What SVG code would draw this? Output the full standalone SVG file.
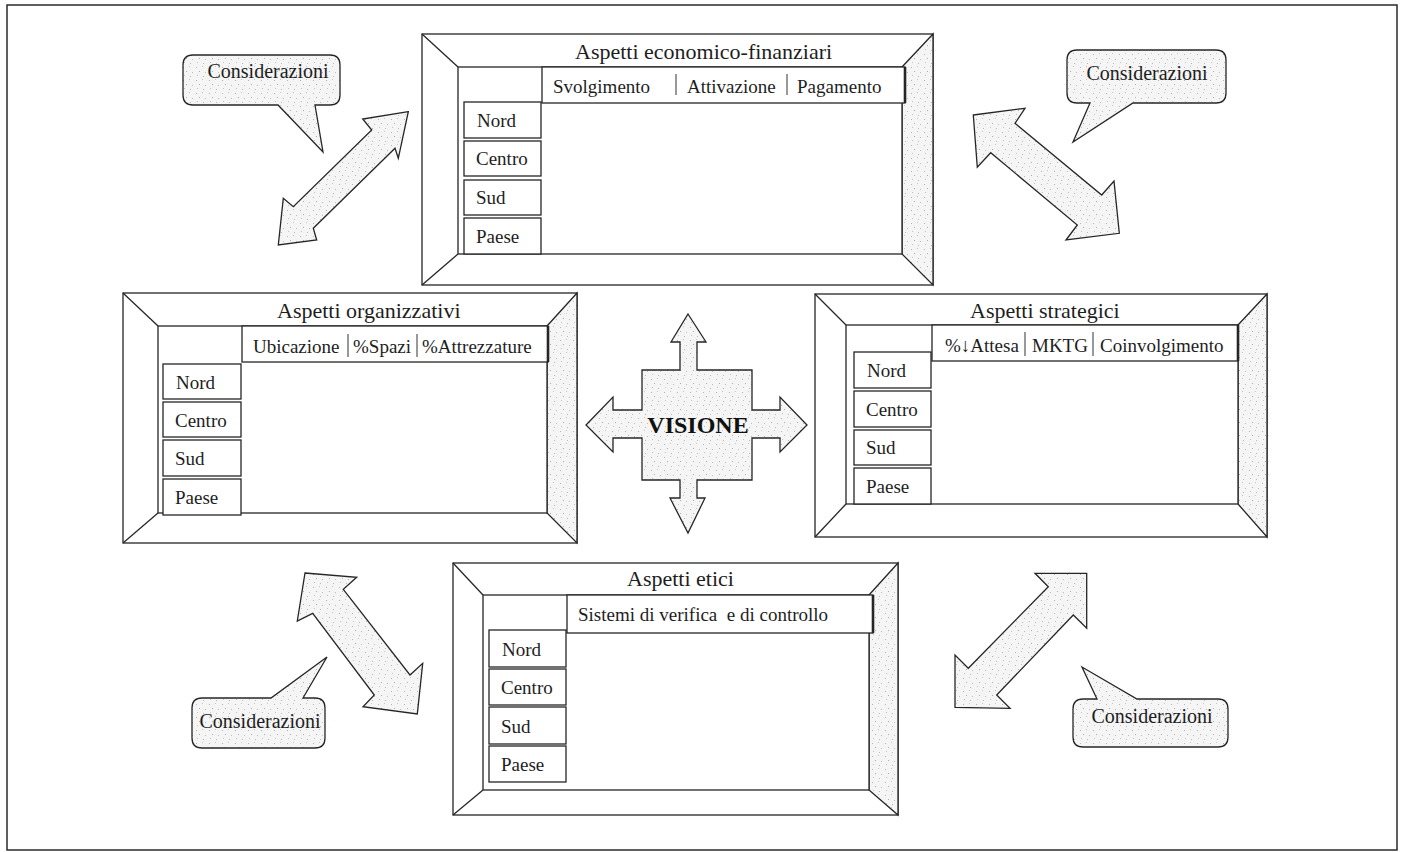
<svg xmlns="http://www.w3.org/2000/svg" width="1403" height="852" viewBox="0 0 1403 852">
  <defs>
    <!-- light dotted screen used for shaded surfaces -->
    <pattern id="stipple" width="13" height="13" patternUnits="userSpaceOnUse">
      <rect width="13" height="13" fill="#f5f5f5"/>
      <rect x="1" y="2" width="1" height="1" fill="#b4b4b4"/>
      <rect x="7" y="1" width="1" height="1" fill="#c6c6c6"/>
      <rect x="4" y="6" width="1" height="1" fill="#aeaeae"/>
      <rect x="10" y="7" width="1" height="1" fill="#bdbdbd"/>
      <rect x="2" y="10" width="1" height="1" fill="#c2c2c2"/>
      <rect x="8" y="11" width="1" height="1" fill="#b8b8b8"/>
    </pattern>
  </defs>
  <style>
    .ln { fill: none; stroke: #262626; stroke-width: 1.3; }
    .frame { fill: #ffffff; stroke: #262626; stroke-width: 1.3; }
    .shade { fill: url(#stipple); stroke: #262626; stroke-width: 1.3; }
    .cell { fill: #ffffff; stroke: #262626; stroke-width: 1.3; }
    .hdr-edge { stroke: #262626; stroke-width: 2.6; }
    .sep { stroke: #333333; stroke-width: 1; }
    .title { font-family: "Liberation Serif", "Times New Roman", serif; font-size: 22px; fill: #1e1e1e; }
    .txt { font-family: "Liberation Serif", "Times New Roman", serif; font-size: 19px; fill: #1e1e1e; }
    .bub { font-family: "Liberation Serif", "Times New Roman", serif; font-size: 20px; fill: #1e1e1e; }
    .vis { font-family: "Liberation Serif", "Times New Roman", serif; font-size: 24px; font-weight: bold; fill: #111111; }
    .pre { white-space: pre; }
  </style>

  <rect width="1403" height="852" fill="#ffffff"/>
  <!-- page border -->
  <rect x="7" y="5" width="1390" height="845" fill="none" stroke="#2a2a2a" stroke-width="1.5"/>

  <!-- Panel: Aspetti economico-finanziari -->
  <g id="panel-economico">
    <rect class="frame" x="422" y="34" width="511" height="251"/>
    <polygon class="shade" points="902,67 933,34 933,285 902,254"/>
    <rect class="frame" x="458" y="67" width="444" height="187"/>
    <line class="ln" x1="422" y1="34" x2="458" y2="67"/>
    <line class="ln" x1="422" y1="285" x2="458" y2="254"/>
    <text class="title" x="575" y="59">Aspetti economico-finanziari</text>
    <rect class="cell" x="542" y="67" width="363" height="36"/>
    <line class="hdr-edge" x1="905" y1="67" x2="905" y2="103"/>
    <text class="txt" x="553" y="93">Svolgimento</text>
    <line class="sep" x1="676" y1="74" x2="676" y2="95"/>
    <text class="txt" x="687" y="93">Attivazione</text>
    <line class="sep" x1="787" y1="74" x2="787" y2="95"/>
    <text class="txt" x="797" y="93">Pagamento</text>
    <rect class="cell" x="464" y="102" width="77" height="36"/>
    <text class="txt" x="477" y="127">Nord</text>
    <rect class="cell" x="464" y="141" width="77" height="35"/>
    <text class="txt" x="476" y="165">Centro</text>
    <rect class="cell" x="464" y="180" width="77" height="35"/>
    <text class="txt" x="476" y="204">Sud</text>
    <rect class="cell" x="464" y="218" width="77" height="36"/>
    <text class="txt" x="476" y="243">Paese</text>
  </g>

  <!-- Panel: Aspetti organizzativi -->
  <g id="panel-organizzativi">
    <rect class="frame" x="123" y="293" width="454" height="250"/>
    <polygon class="shade" points="547,326 577,293 577,543 547,513"/>
    <rect class="frame" x="158" y="326" width="389" height="187"/>
    <line class="ln" x1="123" y1="293" x2="158" y2="326"/>
    <line class="ln" x1="123" y1="543" x2="158" y2="513"/>
    <text class="title" x="277" y="318">Aspetti organizzativi</text>
    <rect class="cell" x="242" y="326" width="306" height="36"/>
    <line class="hdr-edge" x1="548" y1="326" x2="548" y2="362"/>
    <text class="txt" x="253" y="353">Ubicazione</text>
    <line class="sep" x1="348" y1="334" x2="348" y2="357"/>
    <text class="txt" x="353" y="353">%Spazi</text>
    <line class="sep" x1="417" y1="334" x2="417" y2="357"/>
    <text class="txt" x="422" y="353">%Attrezzature</text>
    <rect class="cell" x="163" y="364" width="78" height="35"/>
    <text class="txt" x="176" y="389">Nord</text>
    <rect class="cell" x="163" y="402" width="78" height="35"/>
    <text class="txt" x="175" y="427">Centro</text>
    <rect class="cell" x="163" y="440" width="78" height="36"/>
    <text class="txt" x="175" y="465">Sud</text>
    <rect class="cell" x="163" y="479" width="78" height="36"/>
    <text class="txt" x="175" y="504">Paese</text>
  </g>

  <!-- Panel: Aspetti strategici -->
  <g id="panel-strategici">
    <rect class="frame" x="815" y="294" width="452" height="243"/>
    <polygon class="shade" points="1238,325 1267,294 1267,537 1238,504"/>
    <rect class="frame" x="846" y="325" width="392" height="179"/>
    <line class="ln" x1="815" y1="294" x2="846" y2="325"/>
    <line class="ln" x1="815" y1="537" x2="846" y2="504"/>
    <text class="title" x="970" y="318">Aspetti strategici</text>
    <rect class="cell" x="932" y="325" width="306" height="36"/>
    <line class="hdr-edge" x1="1238" y1="325" x2="1238" y2="361"/>
    <text class="txt" x="945" y="352">%↓Attesa</text>
    <line class="sep" x1="1025" y1="332" x2="1025" y2="356"/>
    <text class="txt" x="1032" y="352">MKTG</text>
    <line class="sep" x1="1093" y1="332" x2="1093" y2="356"/>
    <text class="txt" x="1100" y="352">Coinvolgimento</text>
    <rect class="cell" x="854" y="352" width="77" height="36"/>
    <text class="txt" x="867" y="377">Nord</text>
    <rect class="cell" x="854" y="391" width="77" height="36"/>
    <text class="txt" x="866" y="416">Centro</text>
    <rect class="cell" x="854" y="430" width="77" height="35"/>
    <text class="txt" x="866" y="454">Sud</text>
    <rect class="cell" x="854" y="468" width="77" height="36"/>
    <text class="txt" x="866" y="493">Paese</text>
  </g>

  <!-- Panel: Aspetti etici -->
  <g id="panel-etici">
    <rect class="frame" x="453" y="563" width="445" height="252"/>
    <polygon class="shade" points="869,595 898,563 898,815 869,790"/>
    <rect class="frame" x="483" y="595" width="386" height="195"/>
    <line class="ln" x1="453" y1="563" x2="483" y2="595"/>
    <line class="ln" x1="453" y1="815" x2="483" y2="790"/>
    <text class="title" x="627" y="586">Aspetti etici</text>
    <rect class="cell" x="567" y="595" width="306" height="38"/>
    <line class="hdr-edge" x1="873" y1="595" x2="873" y2="633"/>
    <text class="txt pre" x="578" y="621">Sistemi di verifica  e di controllo</text>
    <rect class="cell" x="489" y="630" width="77" height="37"/>
    <text class="txt" x="502" y="656">Nord</text>
    <rect class="cell" x="489" y="669" width="77" height="36"/>
    <text class="txt" x="501" y="694">Centro</text>
    <rect class="cell" x="489" y="707" width="77" height="37"/>
    <text class="txt" x="501" y="733">Sud</text>
    <rect class="cell" x="489" y="746" width="77" height="36"/>
    <text class="txt" x="501" y="771">Paese</text>
  </g>

  <!-- Central four-way arrow -->
  <g id="visione">
    <polygon class="shade" points="688,314 706,342 697,342 697,370 752,370 752,410 780,410 780,397 807,425 780,452 780,438 752,438 752,480 697,480 697,498 705,498 688,533 670,498 680,498 680,480 642,480 642,438 613,438 613,452 586,425 613,397 613,410 642,410 642,370 680,370 680,342 671,342"/>
    <text class="vis" x="698" y="433" text-anchor="middle">VISIONE</text>
  </g>

  <!-- Speech bubbles -->
  <g id="bubble-top-left">
    <path class="shade" d="M193,55 H330 Q340,55 340,65 V95 Q340,105 330,105 H315 L323,152 L278,105 H193 Q183,105 183,95 V65 Q183,55 193,55 Z"/>
    <text class="bub" x="268" y="78" text-anchor="middle">Considerazioni</text>
  </g>
  <g id="bubble-top-right">
    <path class="shade" d="M1077,50 H1216 Q1226,50 1226,60 V93 Q1226,103 1216,103 H1133 L1073,142 L1090,103 H1077 Q1067,103 1067,93 V60 Q1067,50 1077,50 Z"/>
    <text class="bub" x="1147" y="80" text-anchor="middle">Considerazioni</text>
  </g>
  <g id="bubble-bottom-left">
    <path class="shade" d="M202,698 H271 L327,657 L303,698 H315 Q325,698 325,708 V738 Q325,748 315,748 H202 Q192,748 192,738 V708 Q192,698 202,698 Z"/>
    <text class="bub" x="260" y="728" text-anchor="middle">Considerazioni</text>
  </g>
  <g id="bubble-bottom-right">
    <path class="shade" d="M1083,699 H1097 L1082,667 L1137,699 H1218 Q1228,699 1228,709 V737 Q1228,747 1218,747 H1083 Q1073,747 1073,737 V709 Q1073,699 1083,699 Z"/>
    <text class="bub" x="1152" y="723" text-anchor="middle">Considerazioni</text>
  </g>

  <!-- Double-headed connectors between panels -->
  <g id="connectors">
    <polygon class="shade" points="408.3,111.7 362.7,119 371.7,130 293.3,206.7 283.3,198.3 278.3,245 316.7,240 313.3,228.3 395,148.3 398.3,158.3"/>
    <polygon class="shade" points="973.3,115 1025,108.3 1015,123.3 1101.7,195 1114,181 1119.3,233.3 1066,240 1077.3,225 990.7,152.7 977.3,167.3"/>
    <polygon class="shade" points="305,573 356.7,577.3 343.3,589.3 410,675 422.7,663.3 417.3,714 363,706.7 374.3,695 312.7,613.3 297.3,621"/>
    <polygon class="shade" points="1086.7,573.3 1035,573.3 1048.3,586.7 968.3,668.3 955,655 955,707.3 1010,708.3 996.7,695 1073.3,615 1086.7,628.3"/>
  </g>
</svg>
